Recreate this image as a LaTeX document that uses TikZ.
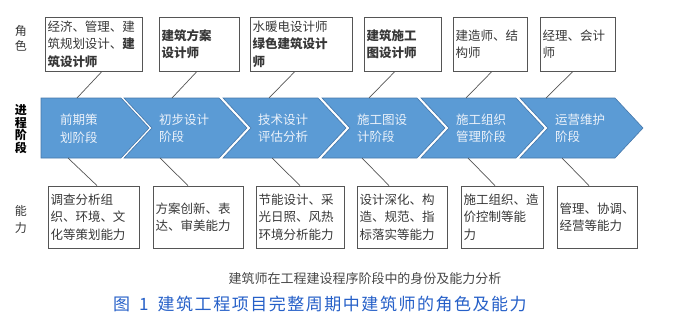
\documentclass[tikz,border=0pt]{standalone}
\usepackage{fontspec}
\setmainfont{Noto Sans CJK SC}
\usepackage{tikz}
\usetikzlibrary{calc,positioning}
\definecolor{chevBlue}{RGB}{91,155,213}
\definecolor{chevBlueDark}{RGB}{70,120,170}
\definecolor{chevText}{RGB}{236,242,250}
\definecolor{bxgray}{RGB}{85,85,85}
\definecolor{txgray}{RGB}{55,55,55}
\definecolor{capgray}{RGB}{70,70,70}
\definecolor{capBlue}{RGB}{38,96,200}
\newcommand{\boxfont}{\fontsize{12.5}{17.5}\selectfont}

\begin{document}
\begin{tikzpicture}[x=1pt,y=-1pt,
  infobox/.style={draw=bxgray, line width=0.8pt, inner xsep=2.5pt, inner ysep=0pt, align=left, text=txgray, font=\boxfont},
  rolebox/.style={infobox, minimum height=54pt},
  skillbox/.style={infobox, minimum height=62pt},
  stagetext/.style={anchor=west, inner sep=0pt, align=left, text=chevText, font=\boxfont},
  chev/.style={fill=chevBlue, draw=chevBlueDark, line width=0.6pt},
  link/.style={draw=bxgray, line width=0.7pt}]
\useasboundingbox (0,0) rectangle (689,319);

% row labels
\node[text=txgray, align=center, font=\fontsize{12}{15}\selectfont] (lblrole) at (21,38.5) {角\\色};
\node[text=black, align=center, font=\fontsize{12}{12.7}\selectfont\bfseries] (lblstage) at (21,129) {进\\程\\阶\\段};
\node[text=txgray, align=center, font=\fontsize{12}{17}\selectfont] (lblskill) at (21,219.5) {能\\力};

% roles
\node[rolebox, text width=92pt] (r1) at (93.5,44) {经济、管理、建\\筑规划设计、\textbf{建}\\\textbf{筑设计师}};
\node[rolebox, text width=75pt] (r2) at (199,44) {\textbf{建筑方案}\\\textbf{设计师}};
\node[rolebox, text width=97pt] (r3) at (301,44) {水暖电设计师\\\textbf{绿色建筑设计}\\\textbf{师}};
\node[rolebox, text width=72pt] (r4) at (402.5,44) {\textbf{建筑施工}\\\textbf{图设计师}};
\node[rolebox, text width=69pt] (r5) at (490,44) {建造师、结\\构师};
\node[rolebox, text width=70pt] (r6) at (577.5,44) {经理、会计\\师};

% stages
\fill[chev] (41,98) -- (121,98) -- (149,128) -- (121,158) -- (41,158) -- cycle;
\node[stagetext] (p1) at (60,128.5) {前期策\\划阶段};
\coordinate (pt1) at (77,98);
\coordinate (pb1) at (68,158);
\foreach \i/\l/\t/\b/\txt in {2/124/172/160/{初步设计\\阶段},3/223/269/272/{技术设计\\评估分析},
  4/322/369/362/{施工图设\\计阶段},5/421/466/468/{施工组织\\管理阶段},6/520/546/562/{运营维护\\阶段}}{
  \fill[chev] (\l,98) -- (\l+95,98) -- (\l+123,128) -- (\l+95,158) -- (\l,158) -- (\l+28,128) -- cycle;
  \node[stagetext] (p\i) at (\l+35,128.5) {\txt};
  \coordinate (pt\i) at (\t,98);
  \coordinate (pb\i) at (\b,158);
}

% skills
\node[skillbox, text width=86pt] (a1) at (93.5,217) {调查分析组\\织、环境、文\\化等策划能力};
\node[skillbox, text width=85pt] (a2) at (198,217) {方案创新、表\\达、审美能力};
\node[skillbox, text width=83pt] (a3) at (300,217) {节能设计、采\\光日照、风热\\环境分析能力};
\node[skillbox, text width=85pt] (a4) at (402,217) {设计深化、构\\造、规范、指\\标落实等能力};
\node[skillbox, text width=77pt] (a5) at (502,217) {施工组织、造\\价控制等能\\力};
\node[skillbox, text width=75pt] (a6) at (597,217) {管理、协调、\\经营等能力};

\foreach \i/\d in {1/8.5,2/-2,3/-6,4/-7.5,5/2,6/-4.5}
  \draw[link] ($(r\i.south)+(\d,0)$) -- (pt\i);
\foreach \i/\d in {1/3.5,2/-10,3/0,4/-13,5/-7,6/-8}
  \draw[link] (pb\i) -- ($(a\i.north)+(\d,0)$);

% captions
\node[text=capgray, font=\fontsize{13}{15}\selectfont] (cap1) at (365,279) {建筑师在工程建设程序阶段中的身份及能力分析};
\node[text=capBlue, font=\fontsize{17}{20}\selectfont\addfontfeatures{LetterSpace=9}] (cap2) at (320,304) {图\hspace{9pt}1\hspace{9pt}建筑工程项目完整周期中建筑师的角色及能力};
\end{tikzpicture}
\end{document}
